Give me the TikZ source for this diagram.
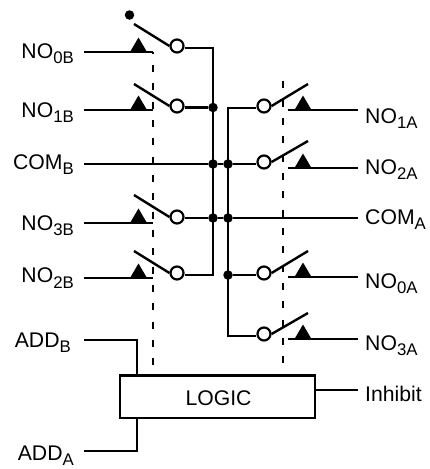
\documentclass[tikz,border=0pt]{standalone}
\usepackage{fontspec}
\setmainfont{Liberation Sans}
\newcommand{\lab}[2]{#1\raisebox{-5.5pt}{\fontsize{16.8}{16.8}\selectfont #2}}
\tikzset{
  wire/.style={line width=2.4pt},
  dashwire/.style={line width=2.4pt,dash pattern=on 7pt off 11.33pt},
  ring/.style={circle,draw,line width=2.2pt,minimum size=13pt,inner sep=0pt,fill=white},
  junct/.style={circle,fill=black,minimum size=9.5pt,inner sep=0pt},
  tri/.style={fill=black},
  lbl/.style={inner sep=0pt,font=\fontsize{21.2}{22}\selectfont},
  lw/.style={lbl,anchor=base east},
  le/.style={lbl,anchor=base west},
}
\begin{document}
\begin{tikzpicture}[x=1pt,y=-1pt]
\useasboundingbox (0,0) rectangle (430,469);
% logic box
\node[draw,line width=2.4pt,minimum width=195pt,minimum height=42.5pt,inner sep=0pt,fill=white] (logic) at (217.5,396.8) {};
\node[lbl,anchor=base] (logictxt) at (218.5,405.5) {LOGIC};
% dashed mechanical links
\coordinate (dl) at (153,52); \coordinate (dlb) at (153,375.5);
\coordinate (dr) at (283,73); \coordinate (drb) at (283,375.5);
\draw[dashwire,dash phase=5.33pt] (dl) -- (dlb);
\draw[dashwire,dash phase=9.93pt] (dr) -- (drb);
% left terminals
\coordinate (a0) at (84,52);  \coordinate (b0) at (153,52);
\coordinate (a1) at (84,110); \coordinate (b1) at (153,110);
\coordinate (a3) at (84,223); \coordinate (b3) at (153,223);
\coordinate (a2) at (84,278); \coordinate (b2) at (153,278);
\coordinate (acom) at (84,164);
\coordinate (aaddb) at (84,340); \coordinate (kb) at (137,340); \coordinate (lb) at (137,375.5);
\coordinate (aadda) at (84,451); \coordinate (ka) at (137,451); \coordinate (la) at (137,418);
\draw[wire] (a0) -- (b0);
\draw[wire] (a1) -- (b1);
\draw[wire] (a3) -- (b3);
\draw[wire] (a2) -- (b2);
\draw[wire] (aaddb) -- (kb) -- (lb);
\draw[wire] (aadda) -- (ka) -- (la);
% left rings
\node[ring] (r0) at (177,46) {};
\node[ring] (r1) at (177,106) {};
\node[ring] (r3) at (177,217) {};
\node[ring] (r2) at (177,273) {};
% left triangles
\foreach \yy in {52,110,223,278}
  \fill[tri] (130,\yy) -- (138.5,\yy-14.5) -- (147,\yy) -- cycle;
% left arms
\coordinate (t0) at (134,24);  \coordinate (t1) at (134,84);
\coordinate (t3) at (134,195); \coordinate (t2) at (134,251);
\draw[wire] (t0) -- (r0.west);
\draw[wire] (t1) -- (r1.west);
\draw[wire] (t3) -- (r3.west);
\draw[wire] (t2) -- (r2.west);
\node[junct] (top) at (129.5,15) {};
% buses
\node[junct] (j1) at (213,107.5) {};
\node[junct] (j2) at (213,164) {};
\node[junct] (j3) at (213,218) {};
\node[junct] (k2) at (228,164) {};
\node[junct] (k3) at (228,218) {};
\node[junct] (k4) at (228,275) {};
\coordinate (ltop) at (213,48); \coordinate (lbot) at (213,275);
\coordinate (rtop) at (228,108); \coordinate (rbot) at (228,336);
\draw[wire] (r0.east |- ltop) -- (ltop) -- (lbot) -- (r2.east |- lbot);
\draw[wire] (r1.east |- j1) -- (j1);
\draw[wire] (r3.east |- j3) -- (j3);
\draw[wire] (acom) -- (j2) -- (k2);
\draw[wire] (j3) -- (k3);
% right rings
\node[ring] (s1) at (264,106) {};
\node[ring] (s2) at (264,162) {};
\node[ring] (s0) at (264,273) {};
\node[ring] (s3) at (264,334) {};
\draw[wire] (s1.west |- rtop) -- (rtop) -- (rbot) -- (s3.west |- rbot);
\draw[wire] (k2) -- (s2.west |- k2);
\draw[wire] (k4) -- (s0.west |- k4);
% right arms
\coordinate (u1) at (308,84);  \coordinate (u2) at (308,141);
\coordinate (u0) at (308,251); \coordinate (u3) at (308,313);
\draw[wire] (s1.east) -- (u1);
\draw[wire] (s2.east) -- (u2);
\draw[wire] (s0.east) -- (u0);
\draw[wire] (s3.east) -- (u3);
% right terminals
\coordinate (c1) at (288,110); \coordinate (e1) at (358,110);
\coordinate (c2) at (288,168); \coordinate (e2) at (358,168);
\coordinate (c0) at (288,277); \coordinate (e0) at (358,277);
\coordinate (c3) at (288,339); \coordinate (e3) at (358,339);
\coordinate (ecom) at (358,218); \coordinate (einh) at (358,390);
\draw[wire] (c1) -- (e1);
\draw[wire] (c2) -- (e2);
\draw[wire] (c0) -- (e0);
\draw[wire] (c3) -- (e3);
\draw[wire] (k3) -- (ecom);
\draw[wire] (logic.east |- einh) -- (einh);
\foreach \yy in {110,168,277,339}
  \fill[tri] (294.5,\yy) -- (303,\yy-14.5) -- (311.5,\yy) -- cycle;
% labels
\node[lw] (n0b) at (74,58) {\lab{NO}{0B}};
\node[lw] (n1b) at (74,117) {\lab{NO}{1B}};
\node[lw] (ncb) at (74,169) {\lab{COM}{B}};
\node[lw] (n3b) at (74,230) {\lab{NO}{3B}};
\node[lw] (n2b) at (74,282.5) {\lab{NO}{2B}};
\node[lw] (nab) at (71,347) {\lab{ADD}{B}};
\node[lw] (naa) at (74,460) {\lab{ADD}{A}};
\node[le] (n1a) at (365,123) {\lab{NO}{1A}};
\node[le] (n2a) at (365,174) {\lab{NO}{2A}};
\node[le] (nca) at (365,224) {\lab{COM}{A}};
\node[le] (n0a) at (365,288) {\lab{NO}{0A}};
\node[le] (n3a) at (365,350) {\lab{NO}{3A}};
\node[le] (inh) at (365,401) {Inhibit};
\end{tikzpicture}
\end{document}
